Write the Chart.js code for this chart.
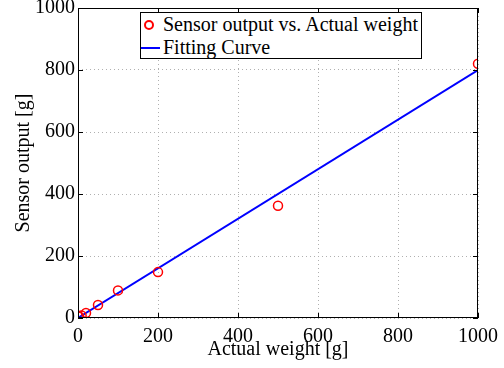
<!DOCTYPE html>
<html>
<head>
<meta charset="utf-8">
<script src="https://cdn.jsdelivr.net/npm/chart.js@4.4.0/dist/chart.umd.min.js"></script>
<style>
  html, body { margin: 0; padding: 0; background: #fff; overflow: hidden; }
  #wrap { position: relative; width: 504px; height: 368px; }
  canvas { display: block; }
  #legend {
    position: absolute; left: 140px; top: 12px; width: 282px; height: 47px;
    border: 1px solid #000; background: #fff; box-sizing: border-box;
    font-family: 'Liberation Serif', 'Times New Roman', serif; font-size: 20px; color: #000;
  }
  .row { position: absolute; left: 0; height: 23px; line-height: 23px; white-space: nowrap; }
  .row span.txt { position: absolute; left: 22px; }
  .mk { position: absolute; left: 3px; top: 7px; width: 6px; height: 6px; border: 2px solid #ff0000; border-radius: 50%; }
  .ln { position: absolute; left: 0px; top: 11px; width: 19px; height: 2px; background: #0000ff; }
</style>
</head>
<body>
<div id="wrap">
  <canvas id="chart" width="504" height="368"></canvas>
  <div id="legend">
    <div class="row" style="top:0px"><div class="mk"></div><span class="txt">Sensor output vs. Actual weight</span></div>
    <div class="row" style="top:23px"><div class="ln"></div><span class="txt">Fitting Curve</span></div>
  </div>
</div>
<script>
// measured data
const actualWeight = [3, 9, 20, 50, 100, 200, 500, 1000];
const sensorOutput = [4, 8, 16, 42, 89, 148, 362, 820];
// fitted line end points
const fitX = [0, 1000];
const fitY = [0.5, 800];
const tickStep = 200;

const serif = "'Liberation Serif', 'Times New Roman', serif";
Chart.defaults.font.family = serif;
Chart.defaults.font.size = 20;
Chart.defaults.color = '#000';

// draws the black box and inward tick marks, matlab style
const boxPlugin = {
    id: 'box',
    afterDraw(chart) {
        const { ctx, chartArea: a, scales } = chart;
        ctx.save();
        ctx.strokeStyle = '#000';
        ctx.lineWidth = 1;
        ctx.strokeRect(a.left + 0.5, a.top + 0.5, a.right - a.left - 1, a.bottom - a.top - 1);
        ctx.beginPath();
        scales.x.ticks.forEach(t => {
            const px = Math.round(scales.x.getPixelForValue(t.value)) + 0.5;
            ctx.moveTo(px, a.bottom); ctx.lineTo(px, a.bottom - 5);
            ctx.moveTo(px, a.top); ctx.lineTo(px, a.top + 5);
        });
        scales.y.ticks.forEach(t => {
            const py = Math.round(scales.y.getPixelForValue(t.value)) + 0.5;
            ctx.moveTo(a.left, py); ctx.lineTo(a.left + 5, py);
            ctx.moveTo(a.right, py); ctx.lineTo(a.right - 5, py);
        });
        ctx.stroke();
        ctx.restore();
    }
};

new Chart(document.getElementById('chart').getContext('2d'), {
    type: 'scatter',
    data: {
        datasets: [
            {
                label: 'Fitting Curve',
                data: fitX.map((x, i) => ({ x: x, y: fitY[i] })),
                showLine: true,
                borderColor: '#0000ff',
                borderWidth: 2,
                pointRadius: 0,
                order: 2
            },
            {
                label: 'Sensor output vs. Actual weight',
                data: actualWeight.map((x, i) => ({ x: x, y: sensorOutput[i] })),
                borderColor: '#ff0000',
                backgroundColor: 'rgba(0,0,0,0)',
                borderWidth: 1.5,
                pointRadius: 4.5,
                order: 1
            }
        ]
    },
    options: {
        responsive: false,
        animation: false,
        layout: { padding: { top: 8, right: 26, left: 0, bottom: 0 } },
        plugins: { legend: { display: false }, tooltip: { enabled: false } },
        scales: {
            x: {
                type: 'linear',
                min: 0, max: 1000,
                afterFit(axis) { axis.height = 50; axis.paddingLeft = 0; axis.paddingRight = 0; },
                ticks: {
                    stepSize: tickStep, color: '#000', padding: 9, maxRotation: 0,
                    font: { family: serif, size: 20, lineHeight: 1 },
                    callback: v => String(v)
                },
                grid: { color: '#b0b0b0', drawTicks: false, lineWidth: 1 },
                border: { display: false, dash: [1, 3] },
                title: {
                    display: true, text: 'Actual weight [g]', color: '#000',
                    font: { family: serif, size: 20, lineHeight: 1 }, padding: { top: 0, bottom: 8 }
                }
            },
            y: {
                type: 'linear',
                min: 0, max: 1000,
                afterFit(axis) { axis.width = 78; axis.paddingTop = 0; axis.paddingBottom = 0; },
                ticks: {
                    stepSize: tickStep, color: '#000', padding: 3,
                    font: { family: serif, size: 20, lineHeight: 1 },
                    callback: v => String(v)
                },
                grid: { color: '#b0b0b0', drawTicks: false, lineWidth: 1 },
                border: { display: false, dash: [1, 3] },
                title: {
                    display: true, text: 'Sensor output [g]', color: '#000',
                    font: { family: serif, size: 20, lineHeight: 1 }, padding: { top: 14, bottom: 0 }
                }
            }
        }
    },
    plugins: [boxPlugin]
});
</script>
</body>
</html>
